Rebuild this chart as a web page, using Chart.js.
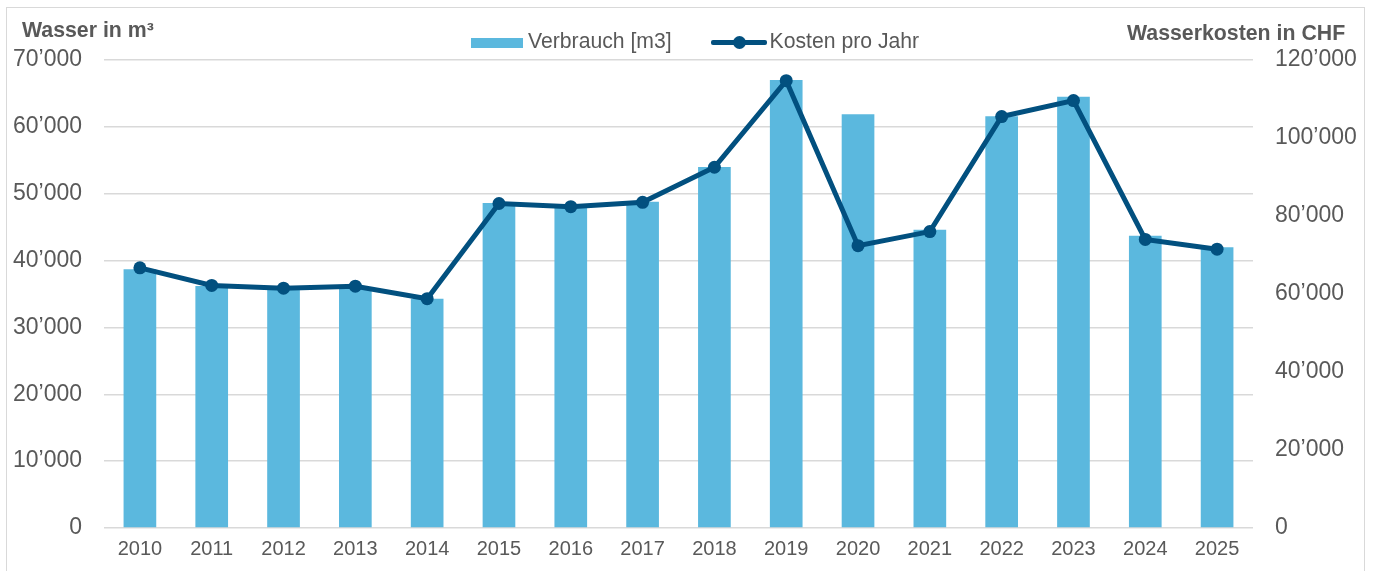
<!DOCTYPE html>
<html>
<head>
<meta charset="utf-8">
<script src="https://cdn.jsdelivr.net/npm/chart.js@4.4.0/dist/chart.umd.min.js"></script>
<style>
  html, body { margin: 0; padding: 0; background: #fff; }
  body { width: 1378px; height: 571px; position: relative; overflow: hidden;
         font-family: "Liberation Sans", Arial, sans-serif; color: #595959; }
  #frame { position: absolute; left: 6px; top: 7px; width: 1359px; height: 600px;
           border: 1.5px solid #d9d9d9; box-sizing: border-box; }
  #chart { position: absolute; left: 0; top: 0; }
  .axis-title { position: absolute; font-weight: bold; font-size: 21.3px; white-space: nowrap; }
  #legend { position: absolute; left: 471px; top: 28px; font-size: 21.2px; white-space: nowrap; }
  #legend .item { display: inline-block; vertical-align: middle; }
  #legend .swatch-bar { display: inline-block; width: 52px; height: 10px; background: #5bb8de;
                        vertical-align: middle; margin-right: 5px; }
  #legend .swatch-line { display: inline-block; width: 56px; height: 13px; position: relative;
                         vertical-align: middle; margin-right: 3px; }
  #legend .swatch-line::before { content: ""; position: absolute; left: 0; right: 0; top: 4px;
                                 height: 5px; background: #02507f; border-radius: 2px; }
  #legend .swatch-line::after { content: ""; position: absolute; left: 22px; top: 0;
                                width: 13px; height: 13px; border-radius: 50%; background: #02507f; }
</style>
</head>
<body>
<div id="frame"></div>
<canvas id="chart" width="1378" height="571"></canvas>
<div class="axis-title" style="left:22px; top:18px;">Wasser in m³</div>
<div class="axis-title" style="left:1127px; top:21px;">Wasserkosten in CHF</div>
<div id="legend">
  <span class="item"><span class="swatch-bar"></span>Verbrauch [m3]</span>
  <span class="item" style="margin-left:33px;"><span class="swatch-line"></span>Kosten pro Jahr</span>
</div>
<script>
const years = ['2010', '2011', '2012', '2013', '2014', '2015', '2016', '2017',
               '2018', '2019', '2020', '2021', '2022', '2023', '2024', '2025'];
// Verbrauch in m3 (linke Achse)
const consumption = [38700, 36200, 35700, 36000, 34300, 48600, 48000, 48800,
                     54000, 67000, 61900, 44600, 61600, 64500, 43700, 42000];
// Kosten pro Jahr in CHF (rechte Achse)
const costs = [66700, 62200, 61500, 62000, 58800, 83200, 82400, 83500,
               92500, 114700, 72400, 76000, 105500, 109600, 74000, 71500];

const textColor = '#595959';
const gridColor = '#d9d9d9';

// Tausendertrennzeichen wie im Original: 70’000
function fmt(v) {
    return String(v).replace(/\B(?=(\d{3})+(?!\d))/g, '\u2019');
}

const ctx = document.getElementById('chart').getContext('2d');
new Chart(ctx, {
    data: {
        labels: years,
        datasets: [
            {
                type: 'line',
                label: 'Kosten pro Jahr',
                data: costs,
                yAxisID: 'yCost',
                borderColor: '#02507f',
                backgroundColor: '#02507f',
                borderWidth: 5,
                pointRadius: 6.5,
                pointHoverRadius: 6.5,
                pointBackgroundColor: '#02507f',
                pointBorderWidth: 0,
                tension: 0,
                order: 0
            },
            {
                type: 'bar',
                label: 'Verbrauch [m3]',
                data: consumption,
                yAxisID: 'yWater',
                backgroundColor: '#5bb8de',
                borderWidth: 0,
                barPercentage: 0.455,
                categoryPercentage: 1,
                order: 1
            }
        ]
    },
    options: {
        responsive: false,
        devicePixelRatio: 1,
        animation: false,
        layout: { padding: { top: 60, left: 0, right: 0, bottom: 0 } },
        plugins: {
            legend: { display: false },
            tooltip: { enabled: false }
        },
        scales: {
            x: {
                grid: { display: false, drawTicks: false },
                border: { display: false },
                ticks: {
                    color: textColor,
                    padding: 9,
                    font: { family: 'Liberation Sans', size: 20 },
                    maxRotation: 0,
                    autoSkip: false
                },
                afterFit(scale) { scale.height = 43; }
            },
            yWater: {
                position: 'left',
                min: 0,
                max: 70000,
                grid: { color: gridColor, lineWidth: 1.4, drawTicks: false },
                border: { display: false },
                ticks: {
                    stepSize: 10000,
                    color: textColor,
                    padding: 22,
                    font: { family: 'Liberation Sans', size: 23 },
                    callback: v => fmt(v)
                },
                afterFit(scale) { scale.width = 104; }
            },
            yCost: {
                position: 'right',
                min: 0,
                max: 120000,
                grid: { display: false, drawTicks: false },
                border: { display: false },
                ticks: {
                    stepSize: 20000,
                    color: textColor,
                    padding: 22,
                    font: { family: 'Liberation Sans', size: 23 },
                    callback: v => fmt(v)
                },
                afterFit(scale) { scale.width = 125; }
            }
        }
    }
});
</script>
</body>
</html>
